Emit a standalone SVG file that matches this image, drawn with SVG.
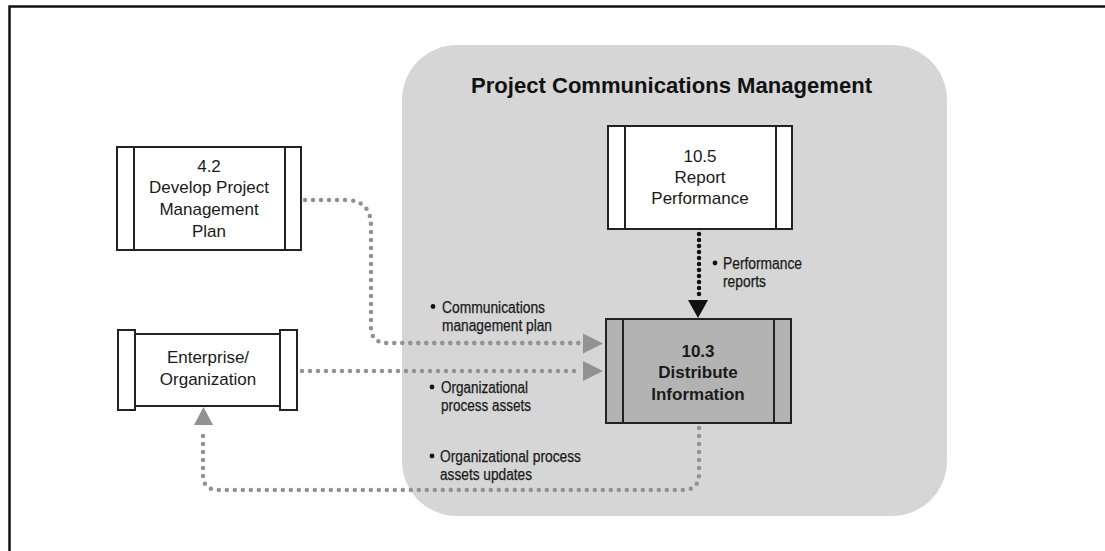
<svg xmlns="http://www.w3.org/2000/svg" width="1105" height="551" viewBox="0 0 1105 551">
<style>
.box{fill:#fff;stroke:#222;stroke-width:2}
.dark{fill:#b3b3b3;stroke:#222;stroke-width:2}
.t{font-family:"Liberation Sans",Arial,sans-serif;font-size:17px;fill:#1a1a1a;text-anchor:middle}
.tb{font-family:"Liberation Sans",Arial,sans-serif;font-size:17px;font-weight:bold;fill:#1a1a1a;text-anchor:middle}
.lbl{font-family:"Liberation Sans",Arial,sans-serif;font-size:16px;fill:#1a1a1a;stroke:#1a1a1a;stroke-width:0.25}
.gdot{fill:none;stroke:#929292;stroke-width:4.5;stroke-linecap:round;stroke-dasharray:0 8}
.kdot{fill:none;stroke:#111;stroke-width:4.5;stroke-linecap:round;stroke-dasharray:0 6}
.garr{fill:#929292}
.karr{fill:#111}
</style>
<rect width="1105" height="551" fill="#fff"/>
<path d="M9.5,551 V6.5 H1105" fill="none" stroke="#111" stroke-width="2.5"/>
<g id="group-pcm">
<rect x="402" y="45" width="545" height="471" rx="55" ry="55" fill="#d6d6d6"/>
<text x="471" y="93" font-family="Liberation Sans,Arial,sans-serif" font-size="21.5" font-weight="bold" fill="#111" textLength="401" lengthAdjust="spacingAndGlyphs">Project Communications Management</text>
</g>
<g id="connectors">
<path class="gdot" d="M305,200 H345 Q371,200 371,226 V327 Q371,343 387,343 H580"/>
<polygon class="garr" points="583,333.5 603,343.5 583,353.5"/>
<path class="gdot" d="M302,371 H580"/>
<polygon class="garr" points="583,361 603,371 583,381"/>
<path class="gdot" d="M699,428 V474 Q699,490 683,490 H218 Q203,490 203,475 V428"/>
<polygon class="garr" points="194,425 203.5,407 213,425"/>
<path class="kdot" d="M699,234 V296"/>
<polygon class="karr" points="688,300 708,300 698,318"/>
</g>
<g id="node-4-2">
<rect class="box" x="117" y="147" width="184" height="103"/>
<line x1="134" y1="147" x2="134" y2="250" stroke="#222" stroke-width="2"/>
<line x1="285" y1="147" x2="285" y2="250" stroke="#222" stroke-width="2"/>
<text class="t" x="209" y="172">4.2</text>
<text class="t" x="209" y="193">Develop Project</text>
<text class="t" x="209" y="215">Management</text>
<text class="t" x="209" y="237">Plan</text>
</g>
<g id="node-enterprise">
<rect class="box" x="135" y="334" width="145" height="72"/>
<rect class="box" x="118" y="330" width="17" height="80"/>
<rect class="box" x="280" y="330" width="17" height="80"/>
<text class="t" x="208" y="363">Enterprise/</text>
<text class="t" x="208" y="385">Organization</text>
</g>
<g id="node-10-5">
<rect class="box" x="608" y="126" width="184" height="103"/>
<line x1="625" y1="126" x2="625" y2="229" stroke="#222" stroke-width="2"/>
<line x1="776" y1="126" x2="776" y2="229" stroke="#222" stroke-width="2"/>
<text class="t" x="700" y="162">10.5</text>
<text class="t" x="700" y="183">Report</text>
<text class="t" x="700" y="204">Performance</text>
</g>
<g id="node-10-3">
<rect class="dark" x="606" y="319" width="185" height="104"/>
<line x1="623" y1="319" x2="623" y2="423" stroke="#222" stroke-width="2"/>
<line x1="774" y1="319" x2="774" y2="423" stroke="#222" stroke-width="2"/>
<text class="tb" x="698" y="357">10.3</text>
<text class="tb" x="698" y="378">Distribute</text>
<text class="tb" x="698" y="400">Information</text>
</g>
<g id="labels">
<circle cx="433" cy="306.5" r="2.4" fill="#111"/>
<text class="lbl" x="442" y="313" textLength="103" lengthAdjust="spacingAndGlyphs">Communications</text>
<text class="lbl" x="442" y="331" textLength="110" lengthAdjust="spacingAndGlyphs">management plan</text>
<circle cx="432" cy="387" r="2.4" fill="#111"/>
<text class="lbl" x="441" y="393" textLength="87" lengthAdjust="spacingAndGlyphs">Organizational</text>
<text class="lbl" x="441" y="411" textLength="90" lengthAdjust="spacingAndGlyphs">process assets</text>
<circle cx="715" cy="263" r="2.4" fill="#111"/>
<text class="lbl" x="723" y="269" textLength="79" lengthAdjust="spacingAndGlyphs">Performance</text>
<text class="lbl" x="723" y="287" textLength="43" lengthAdjust="spacingAndGlyphs">reports</text>
<circle cx="432" cy="456" r="2.4" fill="#111"/>
<text class="lbl" x="440" y="462" textLength="141" lengthAdjust="spacingAndGlyphs">Organizational process</text>
<text class="lbl" x="440" y="480" textLength="92" lengthAdjust="spacingAndGlyphs">assets updates</text>
</g>
</svg>
